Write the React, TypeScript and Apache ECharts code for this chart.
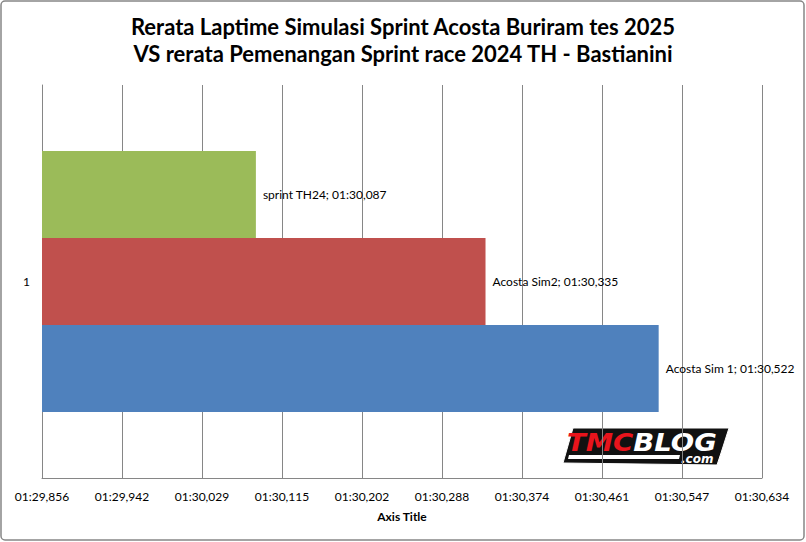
import React, { useEffect, useRef } from "react";
import * as echarts from "echarts";

const categories = ["1"];
const seriesNames = ["sprint TH24", "Acosta Sim2", "Acosta Sim 1"];
const seriesValues = [90.087, 90.335, 90.522]; // seconds
const seriesColors = ["#9BBB59", "#C0504D", "#4F81BD"];
const axisMin = 89.856;
const axisMax = 90.6336;
const axisStep = 0.0864;
const titleLines = [
  "Rerata Laptime Simulasi Sprint Acosta Buriram tes 2025",
  "VS rerata Pemenangan Sprint race 2024 TH - Bastianini",
];
const xAxisTitle = "Axis Title";

function fmtTime(v: number): string {
  const totalMs = Math.round(v * 1000);
  const m = Math.floor(totalMs / 60000);
  const rem = totalMs - m * 60000;
  const s = Math.floor(rem / 1000);
  const ms = rem - s * 1000;
  const pad = (n: number, l: number) => String(n).padStart(l, "0");
  return `${pad(m, 2)}:${pad(s, 2)},${pad(ms, 3)}`;
}

const FONT = "Lato, 'Open Sans', sans-serif";

export default function App() {
  const ref = useRef<HTMLDivElement>(null);
  useEffect(() => {
    if (!ref.current) return;
    const chart = echarts.init(ref.current, undefined, { renderer: "svg" });
    const logoFont = {
      fontFamily: "DejaVu Sans",
      fontStyle: "italic",
      fontWeight: 900,
      fontSize: 25,
      lineHeight: 20,
    };
    const option: any = {
      animation: false,
      backgroundColor: "#ffffff",
      textStyle: { fontFamily: FONT },
      title: {
        text: titleLines.join("\n"),
        left: "center",
        top: 8,
        textStyle: {
          fontFamily: FONT,
          fontWeight: "bold",
          fontSize: 22,
          lineHeight: 27,
          color: "#000000",
        },
      },
      grid: { left: 42, right: 44, top: 85, bottom: 64, containLabel: false },
      xAxis: {
        type: "value",
        min: axisMin,
        max: axisMax,
        interval: axisStep,
        name: xAxisTitle,
        nameLocation: "middle",
        nameGap: 32,
        nameTextStyle: { fontFamily: FONT, fontWeight: "bold", fontSize: 12, color: "#000" },
        axisLine: { show: true, lineStyle: { color: "#868686", width: 1 } },
        axisTick: { show: false },
        axisLabel: {
          formatter: (v: number) => fmtTime(v),
          fontFamily: FONT,
          fontSize: 12,
          color: "#000",
          margin: 12,
        },
        splitLine: { show: true, lineStyle: { color: "#868686", width: 1 } },
      },
      yAxis: {
        type: "category",
        data: categories,
        axisLine: { show: true, lineStyle: { color: "#868686", width: 1 } },
        axisTick: { show: false },
        axisLabel: { fontFamily: FONT, fontSize: 12, color: "#000", margin: 12 },
        splitLine: { show: false },
      },
      series: seriesNames.map((name, i) => ({
        type: "bar",
        name,
        data: [seriesValues[i]],
        barGap: "0%",
        barCategoryGap: "33.6%",
        itemStyle: { color: seriesColors[i] },
        label: {
          show: true,
          position: "right",
          distance: 7,
          fontFamily: FONT,
          fontSize: 12,
          color: "#000",
          formatter: (p: any) => `${p.seriesName}; ${fmtTime(p.value)}`,
        },
      })),
      graphic: [
        {
          type: "rect",
          shape: { x: 1, y: 1, width: 803, height: 539, r: 4 },
          style: { fill: "none", stroke: "#868686", lineWidth: 1.5 },
          z: 10,
        },
        {
          type: "group",
          z: 20,
          children: [
            {
              type: "polygon",
              shape: {
                points: [
                  [573, 428],
                  [729, 428],
                  [721, 453],
                  [717, 465],
                  [563, 463],
                ],
              },
              style: { fill: "#111111", stroke: "#ffffff", lineWidth: 1 },
            },
            {
              type: "text",
              x: 567,
              y: 442,
              scaleX: 1.1,
              style: {
                text: "{a|TMC}{b|BLOG}",
                textVerticalAlign: "middle",
                fill: "#ffffff",
                rich: {
                  a: { ...logoFont, fill: "#E8141C", color: "#E8141C" },
                  b: { ...logoFont, fill: "#ffffff", color: "#ffffff" },
                },
              },
            },
            {
              type: "polygon",
              shape: {
                points: [
                  [569, 455],
                  [680, 455],
                  [679, 459],
                  [568, 459],
                ],
              },
              style: { fill: "#ffffff" },
            },
            {
              type: "text",
              x: 681,
              y: 459,
              style: {
                text: ".com",
                textVerticalAlign: "middle",
                fontFamily: "DejaVu Sans",
                fontStyle: "italic",
                fontWeight: 900,
                fontSize: 12,
                lineHeight: 11,
                fill: "#ffffff",
              },
            },
          ],
        },
      ],
    };
    chart.setOption(option);
    return () => chart.dispose();
  }, []);
  return (
    <div
      ref={ref}
      style={{ position: "fixed", left: 0, top: 0, width: 806, height: 542 }}
    />
  );
}
